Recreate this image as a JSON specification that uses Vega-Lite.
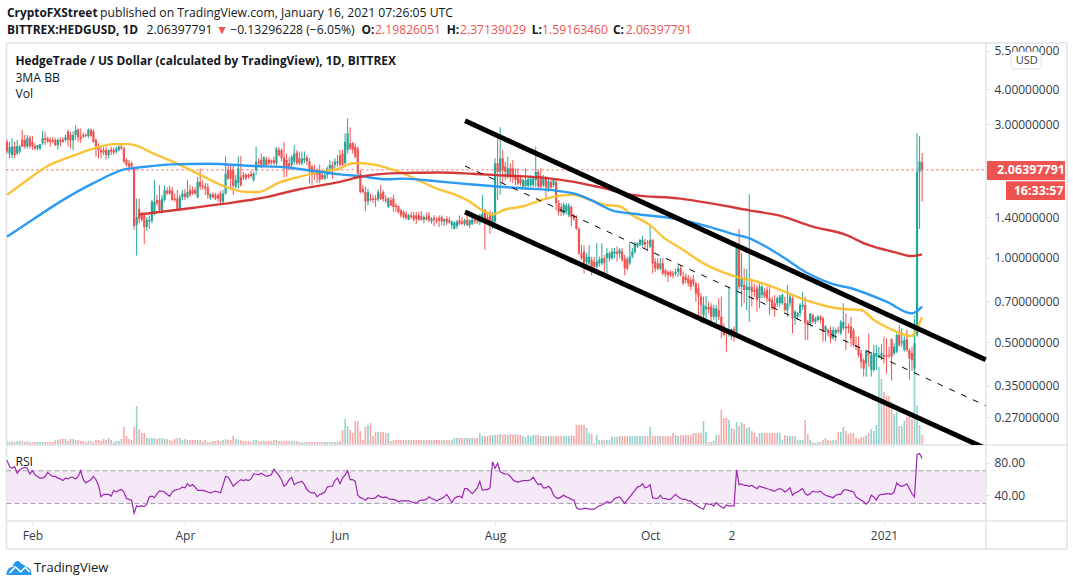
{"$schema":"https://vega.github.io/schema/vega-lite/v6.json","padding":0,"spacing":0,"bounds":"flush","background":"white","config":{"view":{"stroke":null},"font":"Open Sans","text":{"font":"Open Sans","color":"#131722","fontSize":12,"align":"left","baseline":"middle"}},
"datasets":{
"candles":[
{"day":0,"o":2.6,"h":2.65,"l":2.36,"c":2.4,"vol":4,"rsi":83},{"day":1,"o":2.36,"h":2.6,"l":2.27,"c":2.49,"vol":3,"rsi":75},{"day":2,"o":2.33,"h":2.68,"l":2.27,"c":2.5,"vol":4,"rsi":73},{"day":3,"o":2.5,"h":2.6,"l":2.27,"c":2.33,"vol":3,"rsi":75},{"day":4,"o":2.36,"h":2.64,"l":2.33,"c":2.51,"vol":4,"rsi":67},{"day":5,"o":2.4,"h":2.53,"l":2.36,"c":2.5,"vol":4,"rsi":71},{"day":6,"o":2.65,"h":2.87,"l":2.49,"c":2.5,"vol":4,"rsi":73},{"day":7,"o":2.64,"h":2.75,"l":2.46,"c":2.5,"vol":3,"rsi":74},{"day":8,"o":2.5,"h":2.75,"l":2.46,"c":2.68,"vol":4,"rsi":73},{"day":9,"o":2.69,"h":2.73,"l":2.46,"c":2.51,"vol":3,"rsi":66},
{"day":10,"o":2.6,"h":2.73,"l":2.43,"c":2.5,"vol":3,"rsi":70},{"day":11,"o":2.51,"h":2.57,"l":2.43,"c":2.46,"vol":3,"rsi":65},{"day":12,"o":2.46,"h":2.53,"l":2.43,"c":2.53,"vol":3,"rsi":63},{"day":13,"o":2.46,"h":2.55,"l":2.43,"c":2.55,"vol":3,"rsi":61},{"day":14,"o":2.57,"h":2.85,"l":2.53,"c":2.68,"vol":3,"rsi":61},{"day":15,"o":2.68,"h":2.83,"l":2.53,"c":2.64,"vol":3,"rsi":63},{"day":16,"o":2.68,"h":2.71,"l":2.58,"c":2.6,"vol":3,"rsi":68},{"day":17,"o":2.64,"h":2.7,"l":2.5,"c":2.6,"vol":3,"rsi":65},{"day":18,"o":2.64,"h":2.7,"l":2.57,"c":2.6,"vol":3,"rsi":63},{"day":19,"o":2.64,"h":2.68,"l":2.51,"c":2.53,"vol":5,"rsi":63},
{"day":20,"o":2.53,"h":2.68,"l":2.44,"c":2.64,"vol":5,"rsi":61},{"day":21,"o":2.64,"h":2.7,"l":2.5,"c":2.6,"vol":6,"rsi":60},{"day":22,"o":2.65,"h":2.7,"l":2.58,"c":2.6,"vol":6,"rsi":58},{"day":23,"o":2.64,"h":2.75,"l":2.6,"c":2.7,"vol":6,"rsi":61},{"day":24,"o":2.83,"h":2.87,"l":2.5,"c":2.64,"vol":4,"rsi":60},{"day":25,"o":2.75,"h":2.83,"l":2.46,"c":2.63,"vol":6,"rsi":62},{"day":26,"o":2.63,"h":2.83,"l":2.43,"c":2.75,"vol":6,"rsi":62},{"day":27,"o":2.75,"h":2.98,"l":2.64,"c":2.87,"vol":5,"rsi":60},{"day":28,"o":2.87,"h":2.9,"l":2.6,"c":2.7,"vol":5,"rsi":63},{"day":29,"o":2.7,"h":2.9,"l":2.58,"c":2.65,"vol":4,"rsi":70},
{"day":30,"o":2.75,"h":2.81,"l":2.68,"c":2.71,"vol":4,"rsi":59},{"day":31,"o":2.75,"h":2.79,"l":2.7,"c":2.73,"vol":3,"rsi":55},{"day":32,"o":2.73,"h":2.9,"l":2.68,"c":2.87,"vol":4,"rsi":57},{"day":33,"o":2.87,"h":2.9,"l":2.7,"c":2.73,"vol":4,"rsi":59},{"day":34,"o":2.83,"h":2.89,"l":2.58,"c":2.6,"vol":3,"rsi":63},{"day":35,"o":2.64,"h":2.68,"l":2.3,"c":2.5,"vol":5,"rsi":59},{"day":36,"o":2.5,"h":2.57,"l":2.27,"c":2.43,"vol":5,"rsi":52},{"day":37,"o":2.43,"h":2.5,"l":2.27,"c":2.38,"vol":4,"rsi":38},{"day":38,"o":2.43,"h":2.49,"l":2.33,"c":2.38,"vol":6,"rsi":41},{"day":39,"o":2.43,"h":2.5,"l":2.25,"c":2.33,"vol":5,"rsi":41},
{"day":40,"o":2.33,"h":2.44,"l":2.27,"c":2.43,"vol":7,"rsi":41},{"day":41,"o":2.44,"h":2.5,"l":2.33,"c":2.4,"vol":5,"rsi":39},{"day":42,"o":2.43,"h":2.49,"l":2.33,"c":2.38,"vol":3,"rsi":46},{"day":43,"o":2.4,"h":2.5,"l":2.36,"c":2.46,"vol":4,"rsi":44},{"day":44,"o":2.43,"h":2.57,"l":2.4,"c":2.5,"vol":4,"rsi":46},{"day":45,"o":2.5,"h":2.55,"l":2.43,"c":2.46,"vol":6,"rsi":47},{"day":46,"o":2.46,"h":2.5,"l":2.18,"c":2.21,"vol":18,"rsi":44},{"day":47,"o":2.24,"h":2.27,"l":2.12,"c":2.15,"vol":9,"rsi":36},{"day":48,"o":2.18,"h":2.24,"l":2.03,"c":2.12,"vol":6,"rsi":35},{"day":49,"o":2.18,"h":2.21,"l":2.09,"c":2.12,"vol":5,"rsi":34},
{"day":50,"o":2.09,"h":2.12,"l":1.26,"c":1.3,"vol":18,"rsi":18},{"day":51,"o":1.31,"h":1.63,"l":1.02,"c":1.4,"vol":39,"rsi":27},{"day":52,"o":1.5,"h":1.63,"l":1.33,"c":1.38,"vol":16,"rsi":26},{"day":53,"o":1.42,"h":1.46,"l":1.35,"c":1.37,"vol":12,"rsi":27},{"day":54,"o":1.42,"h":1.44,"l":1.12,"c":1.29,"vol":12,"rsi":26},{"day":55,"o":1.29,"h":1.4,"l":1.25,"c":1.37,"vol":7,"rsi":29},{"day":56,"o":1.35,"h":1.42,"l":1.27,"c":1.37,"vol":7,"rsi":38},{"day":57,"o":1.36,"h":1.61,"l":1.33,"c":1.59,"vol":7,"rsi":39},{"day":58,"o":1.44,"h":1.9,"l":1.42,"c":1.59,"vol":7,"rsi":37},{"day":59,"o":1.61,"h":1.68,"l":1.54,"c":1.57,"vol":6,"rsi":42},
{"day":60,"o":1.61,"h":1.82,"l":1.46,"c":1.48,"vol":7,"rsi":45},{"day":61,"o":1.48,"h":1.68,"l":1.44,"c":1.63,"vol":7,"rsi":45},{"day":62,"o":1.61,"h":1.82,"l":1.59,"c":1.75,"vol":6,"rsi":44},{"day":63,"o":1.74,"h":1.79,"l":1.68,"c":1.7,"vol":6,"rsi":41},{"day":64,"o":1.75,"h":1.81,"l":1.68,"c":1.7,"vol":5,"rsi":39},{"day":65,"o":1.74,"h":1.79,"l":1.6,"c":1.61,"vol":4,"rsi":44},{"day":66,"o":1.63,"h":1.7,"l":1.59,"c":1.61,"vol":6,"rsi":46},{"day":67,"o":1.63,"h":1.75,"l":1.49,"c":1.5,"vol":7,"rsi":47},{"day":68,"o":1.5,"h":1.68,"l":1.48,"c":1.65,"vol":7,"rsi":48},{"day":69,"o":1.65,"h":1.75,"l":1.61,"c":1.7,"vol":5,"rsi":50},
{"day":70,"o":1.7,"h":1.76,"l":1.61,"c":1.65,"vol":6,"rsi":49},{"day":71,"o":1.65,"h":1.9,"l":1.63,"c":1.72,"vol":5,"rsi":54},{"day":72,"o":1.75,"h":1.82,"l":1.65,"c":1.68,"vol":5,"rsi":51},{"day":73,"o":1.75,"h":1.8,"l":1.68,"c":1.7,"vol":5,"rsi":53},{"day":74,"o":1.75,"h":1.79,"l":1.68,"c":1.7,"vol":5,"rsi":50},{"day":75,"o":1.65,"h":1.95,"l":1.63,"c":1.87,"vol":5,"rsi":46},{"day":76,"o":1.87,"h":2.09,"l":1.75,"c":1.8,"vol":5,"rsi":46},{"day":77,"o":1.81,"h":1.9,"l":1.75,"c":1.79,"vol":3,"rsi":46},{"day":78,"o":1.8,"h":1.85,"l":1.68,"c":1.77,"vol":5,"rsi":45},{"day":79,"o":1.79,"h":1.85,"l":1.63,"c":1.68,"vol":3,"rsi":44},
{"day":80,"o":1.64,"h":1.71,"l":1.61,"c":1.69,"vol":3,"rsi":43},{"day":81,"o":1.69,"h":1.72,"l":1.63,"c":1.65,"vol":4,"rsi":44},{"day":82,"o":1.68,"h":1.71,"l":1.61,"c":1.63,"vol":4,"rsi":45},{"day":83,"o":1.68,"h":1.71,"l":1.59,"c":1.63,"vol":5,"rsi":44},{"day":84,"o":1.7,"h":1.74,"l":1.57,"c":1.59,"vol":4,"rsi":43},{"day":85,"o":1.59,"h":1.75,"l":1.57,"c":1.7,"vol":5,"rsi":53},{"day":86,"o":1.7,"h":2.31,"l":1.68,"c":2.0,"vol":6,"rsi":63},{"day":87,"o":2.06,"h":2.15,"l":1.9,"c":1.92,"vol":5,"rsi":62},{"day":88,"o":2.06,"h":2.15,"l":1.77,"c":1.92,"vol":5,"rsi":57},{"day":89,"o":2.06,"h":2.15,"l":1.68,"c":1.81,"vol":9,"rsi":51},
{"day":90,"o":1.8,"h":1.98,"l":1.77,"c":1.9,"vol":6,"rsi":54},{"day":91,"o":1.85,"h":2.31,"l":1.77,"c":2.09,"vol":5,"rsi":57},{"day":92,"o":1.95,"h":2.31,"l":1.8,"c":1.82,"vol":5,"rsi":59},{"day":93,"o":1.98,"h":2.03,"l":1.9,"c":1.94,"vol":4,"rsi":58},{"day":94,"o":1.98,"h":2.01,"l":1.9,"c":1.92,"vol":4,"rsi":59},{"day":95,"o":1.98,"h":2.0,"l":1.92,"c":1.95,"vol":4,"rsi":58},{"day":96,"o":2.0,"h":2.05,"l":1.94,"c":1.96,"vol":3,"rsi":60},{"day":97,"o":1.9,"h":2.03,"l":1.87,"c":2.0,"vol":5,"rsi":66},{"day":98,"o":2.06,"h":2.5,"l":1.98,"c":2.21,"vol":5,"rsi":66},{"day":99,"o":2.21,"h":2.27,"l":2.13,"c":2.18,"vol":4,"rsi":65},
{"day":100,"o":2.24,"h":2.36,"l":2.09,"c":2.15,"vol":4,"rsi":67},{"day":101,"o":2.15,"h":2.31,"l":2.12,"c":2.29,"vol":4,"rsi":65},{"day":102,"o":2.25,"h":2.3,"l":2.13,"c":2.15,"vol":4,"rsi":63},{"day":103,"o":2.24,"h":2.29,"l":2.15,"c":2.18,"vol":4,"rsi":64},{"day":104,"o":2.23,"h":2.25,"l":2.15,"c":2.19,"vol":4,"rsi":65},{"day":105,"o":2.24,"h":2.3,"l":2.15,"c":2.18,"vol":5,"rsi":72},{"day":106,"o":2.18,"h":2.49,"l":2.13,"c":2.46,"vol":5,"rsi":68},{"day":107,"o":2.43,"h":2.49,"l":2.3,"c":2.33,"vol":4,"rsi":64},{"day":108,"o":2.43,"h":2.46,"l":2.21,"c":2.27,"vol":4,"rsi":59},{"day":109,"o":2.29,"h":2.6,"l":1.94,"c":2.12,"vol":4,"rsi":51},
{"day":110,"o":2.24,"h":2.36,"l":1.95,"c":2.12,"vol":4,"rsi":54},{"day":111,"o":2.18,"h":2.29,"l":2.06,"c":2.12,"vol":4,"rsi":59},{"day":112,"o":2.15,"h":2.33,"l":2.09,"c":2.3,"vol":4,"rsi":62},{"day":113,"o":2.21,"h":2.53,"l":2.15,"c":2.36,"vol":4,"rsi":53},{"day":114,"o":2.38,"h":2.43,"l":2.15,"c":2.18,"vol":4,"rsi":55},{"day":115,"o":2.27,"h":2.4,"l":2.15,"c":2.18,"vol":3,"rsi":56},{"day":116,"o":2.18,"h":2.4,"l":2.15,"c":2.27,"vol":3,"rsi":57},{"day":117,"o":2.23,"h":2.4,"l":2.18,"c":2.27,"vol":3,"rsi":53},{"day":118,"o":2.29,"h":2.33,"l":2.15,"c":2.21,"vol":3,"rsi":47},{"day":119,"o":2.21,"h":2.27,"l":1.85,"c":2.03,"vol":3,"rsi":44},
{"day":120,"o":2.12,"h":2.15,"l":1.82,"c":2.01,"vol":3,"rsi":43},{"day":121,"o":2.03,"h":2.15,"l":1.9,"c":2.0,"vol":3,"rsi":43},{"day":122,"o":2.03,"h":2.09,"l":1.85,"c":1.98,"vol":3,"rsi":38},{"day":123,"o":2.03,"h":2.15,"l":1.85,"c":1.9,"vol":3,"rsi":41},{"day":124,"o":1.98,"h":2.06,"l":1.9,"c":1.92,"vol":3,"rsi":42},{"day":125,"o":1.92,"h":2.03,"l":1.9,"c":1.98,"vol":3,"rsi":44},{"day":126,"o":1.98,"h":2.12,"l":1.92,"c":2.09,"vol":3,"rsi":50},{"day":127,"o":2.09,"h":2.24,"l":2.03,"c":2.15,"vol":3,"rsi":51},{"day":128,"o":2.15,"h":2.21,"l":1.92,"c":2.06,"vol":3,"rsi":51},{"day":129,"o":2.15,"h":2.27,"l":2.09,"c":2.21,"vol":3,"rsi":58},
{"day":130,"o":2.18,"h":2.33,"l":2.12,"c":2.21,"vol":3,"rsi":61},{"day":131,"o":2.33,"h":2.43,"l":2.12,"c":2.15,"vol":4,"rsi":54},{"day":132,"o":2.36,"h":2.44,"l":2.12,"c":2.15,"vol":15,"rsi":61},{"day":133,"o":2.18,"h":2.79,"l":2.12,"c":2.6,"vol":26,"rsi":65},{"day":134,"o":2.43,"h":3.15,"l":2.36,"c":2.79,"vol":19,"rsi":70},{"day":135,"o":2.57,"h":2.93,"l":2.43,"c":2.46,"vol":15,"rsi":59},{"day":136,"o":2.57,"h":2.6,"l":2.36,"c":2.43,"vol":12,"rsi":59},{"day":137,"o":2.5,"h":2.57,"l":2.27,"c":2.3,"vol":24,"rsi":57},{"day":138,"o":2.46,"h":2.5,"l":1.98,"c":2.0,"vol":24,"rsi":40},{"day":139,"o":2.0,"h":2.06,"l":1.7,"c":1.72,"vol":14,"rsi":37},
{"day":140,"o":1.77,"h":1.82,"l":1.7,"c":1.72,"vol":5,"rsi":36},{"day":141,"o":1.72,"h":1.8,"l":1.47,"c":1.59,"vol":18,"rsi":34},{"day":142,"o":1.59,"h":1.77,"l":1.54,"c":1.72,"vol":20,"rsi":37},{"day":143,"o":1.63,"h":1.7,"l":1.59,"c":1.61,"vol":22,"rsi":36},{"day":144,"o":1.63,"h":1.68,"l":1.57,"c":1.61,"vol":9,"rsi":36},{"day":145,"o":1.63,"h":1.68,"l":1.52,"c":1.61,"vol":13,"rsi":37},{"day":146,"o":1.62,"h":1.76,"l":1.59,"c":1.72,"vol":13,"rsi":40},{"day":147,"o":1.7,"h":1.82,"l":1.61,"c":1.63,"vol":13,"rsi":38},{"day":148,"o":1.72,"h":1.75,"l":1.59,"c":1.62,"vol":13,"rsi":37},{"day":149,"o":1.62,"h":1.68,"l":1.57,"c":1.6,"vol":12,"rsi":38},
{"day":150,"o":1.52,"h":1.65,"l":1.51,"c":1.63,"vol":12,"rsi":36},{"day":151,"o":1.61,"h":1.65,"l":1.53,"c":1.54,"vol":4,"rsi":35},{"day":152,"o":1.63,"h":1.68,"l":1.46,"c":1.52,"vol":5,"rsi":35},{"day":153,"o":1.54,"h":1.57,"l":1.46,"c":1.52,"vol":5,"rsi":34},{"day":154,"o":1.53,"h":1.54,"l":1.44,"c":1.46,"vol":5,"rsi":32},{"day":155,"o":1.48,"h":1.5,"l":1.39,"c":1.42,"vol":5,"rsi":33},{"day":156,"o":1.46,"h":1.48,"l":1.38,"c":1.4,"vol":5,"rsi":33},{"day":157,"o":1.44,"h":1.47,"l":1.37,"c":1.39,"vol":5,"rsi":33},{"day":158,"o":1.37,"h":1.44,"l":1.365,"c":1.42,"vol":5,"rsi":33},{"day":159,"o":1.42,"h":1.46,"l":1.38,"c":1.4,"vol":5,"rsi":32},
{"day":160,"o":1.42,"h":1.46,"l":1.35,"c":1.37,"vol":5,"rsi":31},{"day":161,"o":1.42,"h":1.46,"l":1.325,"c":1.38,"vol":5,"rsi":30},{"day":162,"o":1.42,"h":1.46,"l":1.36,"c":1.37,"vol":5,"rsi":33},{"day":163,"o":1.41,"h":1.47,"l":1.36,"c":1.37,"vol":5,"rsi":34},{"day":164,"o":1.37,"h":1.42,"l":1.33,"c":1.4,"vol":5,"rsi":34},{"day":165,"o":1.4,"h":1.45,"l":1.36,"c":1.37,"vol":5,"rsi":35},{"day":166,"o":1.42,"h":1.46,"l":1.34,"c":1.365,"vol":5,"rsi":38},{"day":167,"o":1.35,"h":1.4,"l":1.325,"c":1.38,"vol":5,"rsi":36},{"day":168,"o":1.39,"h":1.42,"l":1.3,"c":1.37,"vol":5,"rsi":35},{"day":169,"o":1.37,"h":1.4,"l":1.33,"c":1.35,"vol":5,"rsi":33},
{"day":170,"o":1.39,"h":1.42,"l":1.29,"c":1.36,"vol":5,"rsi":35},{"day":171,"o":1.4,"h":1.42,"l":1.31,"c":1.35,"vol":5,"rsi":36},{"day":172,"o":1.35,"h":1.38,"l":1.3,"c":1.38,"vol":5,"rsi":38},{"day":173,"o":1.38,"h":1.41,"l":1.31,"c":1.34,"vol":5,"rsi":41},{"day":174,"o":1.365,"h":1.4,"l":1.325,"c":1.34,"vol":5,"rsi":36},{"day":175,"o":1.31,"h":1.36,"l":1.27,"c":1.35,"vol":5,"rsi":31},{"day":176,"o":1.27,"h":1.35,"l":1.265,"c":1.34,"vol":7,"rsi":36},{"day":177,"o":1.3,"h":1.365,"l":1.27,"c":1.35,"vol":7,"rsi":38},{"day":178,"o":1.365,"h":1.42,"l":1.31,"c":1.325,"vol":7,"rsi":39},{"day":179,"o":1.35,"h":1.4,"l":1.31,"c":1.325,"vol":7,"rsi":37},
{"day":180,"o":1.325,"h":1.38,"l":1.3,"c":1.365,"vol":7,"rsi":48},{"day":181,"o":1.365,"h":1.44,"l":1.3,"c":1.31,"vol":7,"rsi":48},{"day":182,"o":1.31,"h":1.37,"l":1.28,"c":1.365,"vol":7,"rsi":45},{"day":183,"o":1.325,"h":1.4,"l":1.31,"c":1.37,"vol":7,"rsi":42},{"day":184,"o":1.37,"h":1.42,"l":1.325,"c":1.35,"vol":7,"rsi":45},{"day":185,"o":1.35,"h":1.42,"l":1.325,"c":1.34,"vol":7,"rsi":49},{"day":186,"o":1.34,"h":1.44,"l":1.31,"c":1.42,"vol":12,"rsi":57},{"day":187,"o":1.365,"h":1.68,"l":1.35,"c":1.44,"vol":9,"rsi":46},{"day":188,"o":1.48,"h":1.5,"l":1.07,"c":1.35,"vol":9,"rsi":47},{"day":189,"o":1.4,"h":1.46,"l":1.325,"c":1.33,"vol":9,"rsi":47},
{"day":190,"o":1.42,"h":1.48,"l":1.22,"c":1.31,"vol":10,"rsi":49},{"day":191,"o":1.31,"h":1.46,"l":1.27,"c":1.42,"vol":10,"rsi":81},{"day":192,"o":1.35,"h":2.27,"l":1.27,"c":2.18,"vol":10,"rsi":73},{"day":193,"o":2.18,"h":2.71,"l":1.61,"c":2.03,"vol":10,"rsi":79},{"day":194,"o":2.03,"h":2.93,"l":1.68,"c":2.27,"vol":11,"rsi":69},{"day":195,"o":2.27,"h":2.43,"l":1.85,"c":2.06,"vol":10,"rsi":67},{"day":196,"o":2.12,"h":2.21,"l":1.9,"c":2.03,"vol":11,"rsi":66},{"day":197,"o":1.98,"h":2.3,"l":1.92,"c":2.09,"vol":10,"rsi":66},{"day":198,"o":2.09,"h":2.18,"l":1.87,"c":1.98,"vol":11,"rsi":63},{"day":199,"o":2.09,"h":2.24,"l":1.85,"c":1.98,"vol":10,"rsi":59},
{"day":200,"o":1.98,"h":2.09,"l":1.82,"c":1.9,"vol":11,"rsi":57},{"day":201,"o":1.98,"h":2.09,"l":1.82,"c":1.85,"vol":10,"rsi":56},{"day":202,"o":1.92,"h":1.98,"l":1.81,"c":1.85,"vol":10,"rsi":57},{"day":203,"o":1.8,"h":1.92,"l":1.79,"c":1.9,"vol":9,"rsi":58},{"day":204,"o":1.81,"h":2.09,"l":1.79,"c":1.9,"vol":8,"rsi":58},{"day":205,"o":1.81,"h":1.95,"l":1.79,"c":1.91,"vol":10,"rsi":58},{"day":206,"o":1.82,"h":1.98,"l":1.79,"c":1.92,"vol":9,"rsi":59},{"day":207,"o":1.82,"h":1.95,"l":1.79,"c":1.92,"vol":10,"rsi":62},{"day":208,"o":1.9,"h":2.5,"l":1.79,"c":2.03,"vol":10,"rsi":57},{"day":209,"o":2.03,"h":2.06,"l":1.77,"c":1.8,"vol":10,"rsi":53},
{"day":210,"o":1.95,"h":2.09,"l":1.75,"c":1.8,"vol":9,"rsi":54},{"day":211,"o":1.82,"h":1.98,"l":1.79,"c":1.92,"vol":9,"rsi":49},{"day":212,"o":1.92,"h":1.96,"l":1.63,"c":1.79,"vol":9,"rsi":49},{"day":213,"o":1.77,"h":1.92,"l":1.72,"c":1.88,"vol":9,"rsi":51},{"day":214,"o":1.87,"h":1.91,"l":1.75,"c":1.79,"vol":9,"rsi":48},{"day":215,"o":1.82,"h":1.92,"l":1.79,"c":1.9,"vol":9,"rsi":40},{"day":216,"o":1.87,"h":1.91,"l":1.48,"c":1.57,"vol":9,"rsi":37},{"day":217,"o":1.57,"h":1.61,"l":1.42,"c":1.46,"vol":9,"rsi":36},{"day":218,"o":1.52,"h":1.57,"l":1.41,"c":1.46,"vol":9,"rsi":38},{"day":219,"o":1.44,"h":1.58,"l":1.42,"c":1.55,"vol":9,"rsi":40},
{"day":220,"o":1.46,"h":1.57,"l":1.43,"c":1.54,"vol":9,"rsi":38},{"day":221,"o":1.42,"h":1.57,"l":1.4,"c":1.54,"vol":9,"rsi":37},{"day":222,"o":1.52,"h":1.54,"l":1.3,"c":1.4,"vol":10,"rsi":35},{"day":223,"o":1.42,"h":1.44,"l":1.36,"c":1.38,"vol":9,"rsi":34},{"day":224,"o":1.38,"h":1.42,"l":1.26,"c":1.27,"vol":20,"rsi":25},{"day":225,"o":1.27,"h":1.29,"l":1.025,"c":1.04,"vol":20,"rsi":23},{"day":226,"o":1.04,"h":1.115,"l":0.985,"c":0.998,"vol":20,"rsi":23},{"day":227,"o":1.055,"h":1.11,"l":0.88,"c":0.957,"vol":20,"rsi":24},{"day":228,"o":0.97,"h":1.04,"l":0.943,"c":1.01,"vol":17,"rsi":24},{"day":229,"o":0.957,"h":1.11,"l":0.943,"c":1.01,"vol":12,"rsi":23},
{"day":230,"o":0.985,"h":1.01,"l":0.867,"c":0.93,"vol":11,"rsi":23},{"day":231,"o":0.97,"h":1.01,"l":0.917,"c":0.93,"vol":2,"rsi":23},{"day":232,"o":0.93,"h":1.13,"l":0.917,"c":0.97,"vol":10,"rsi":25},{"day":233,"o":0.957,"h":1.01,"l":0.93,"c":0.985,"vol":5,"rsi":27},{"day":234,"o":0.957,"h":1.13,"l":0.943,"c":0.998,"vol":5,"rsi":28},{"day":235,"o":0.998,"h":1.025,"l":0.867,"c":0.957,"vol":5,"rsi":30},{"day":236,"o":0.998,"h":1.085,"l":0.867,"c":1.04,"vol":5,"rsi":32},{"day":237,"o":0.998,"h":1.055,"l":0.97,"c":1.04,"vol":5,"rsi":31},{"day":238,"o":0.998,"h":1.085,"l":0.985,"c":1.055,"vol":8,"rsi":32},{"day":239,"o":1.035,"h":1.085,"l":0.998,"c":1.055,"vol":8,"rsi":36},
{"day":240,"o":1.055,"h":1.1,"l":0.97,"c":1.035,"vol":8,"rsi":37},{"day":241,"o":1.035,"h":1.085,"l":0.998,"c":1.07,"vol":9,"rsi":38},{"day":242,"o":1.055,"h":1.085,"l":0.97,"c":0.985,"vol":9,"rsi":34},{"day":243,"o":0.998,"h":1.025,"l":0.867,"c":0.917,"vol":9,"rsi":30},{"day":244,"o":0.99,"h":1.01,"l":0.904,"c":0.917,"vol":9,"rsi":34},{"day":245,"o":0.957,"h":1.14,"l":0.943,"c":1.01,"vol":9,"rsi":38},{"day":246,"o":1.01,"h":1.085,"l":0.998,"c":1.055,"vol":9,"rsi":42},{"day":247,"o":1.05,"h":1.14,"l":1.035,"c":1.115,"vol":9,"rsi":46},{"day":248,"o":1.1,"h":1.14,"l":1.085,"c":1.13,"vol":9,"rsi":50},{"day":249,"o":1.115,"h":1.17,"l":1.1,"c":1.16,"vol":9,"rsi":51},
{"day":250,"o":1.115,"h":1.2,"l":1.1,"c":1.16,"vol":9,"rsi":54},{"day":251,"o":1.14,"h":1.17,"l":1.085,"c":1.115,"vol":9,"rsi":49},{"day":252,"o":1.14,"h":1.16,"l":1.055,"c":1.13,"vol":9,"rsi":50},{"day":253,"o":1.1,"h":1.3,"l":1.085,"c":1.16,"vol":18,"rsi":53},{"day":254,"o":1.16,"h":1.17,"l":0.88,"c":0.957,"vol":9,"rsi":37},{"day":255,"o":0.97,"h":0.998,"l":0.892,"c":0.917,"vol":9,"rsi":36},{"day":256,"o":0.957,"h":0.998,"l":0.904,"c":0.917,"vol":9,"rsi":36},{"day":257,"o":0.917,"h":0.998,"l":0.904,"c":0.957,"vol":9,"rsi":40},{"day":258,"o":0.957,"h":1.0,"l":0.867,"c":0.88,"vol":9,"rsi":36},{"day":259,"o":0.904,"h":0.917,"l":0.855,"c":0.875,"vol":9,"rsi":36},
{"day":260,"o":0.892,"h":0.904,"l":0.82,"c":0.867,"vol":9,"rsi":35},{"day":261,"o":0.892,"h":0.904,"l":0.855,"c":0.867,"vol":9,"rsi":35},{"day":262,"o":0.88,"h":0.9,"l":0.845,"c":0.867,"vol":12,"rsi":38},{"day":263,"o":0.88,"h":0.917,"l":0.86,"c":0.892,"vol":10,"rsi":41},{"day":264,"o":0.892,"h":0.943,"l":0.855,"c":0.917,"vol":9,"rsi":38},{"day":265,"o":0.918,"h":0.94,"l":0.858,"c":0.87,"vol":10,"rsi":36},{"day":266,"o":0.858,"h":0.894,"l":0.801,"c":0.812,"vol":10,"rsi":35},{"day":267,"o":0.858,"h":0.882,"l":0.812,"c":0.834,"vol":10,"rsi":35},{"day":268,"o":0.846,"h":0.87,"l":0.79,"c":0.812,"vol":10,"rsi":33},{"day":269,"o":0.834,"h":0.858,"l":0.768,"c":0.79,"vol":10,"rsi":33},
{"day":270,"o":0.84,"h":0.87,"l":0.79,"c":0.812,"vol":12,"rsi":30},{"day":271,"o":0.812,"h":0.822,"l":0.698,"c":0.748,"vol":12,"rsi":28},{"day":272,"o":0.779,"h":0.812,"l":0.617,"c":0.728,"vol":12,"rsi":26},{"day":273,"o":0.728,"h":0.748,"l":0.584,"c":0.68,"vol":12,"rsi":24},{"day":274,"o":0.625,"h":0.728,"l":0.584,"c":0.68,"vol":24,"rsi":23},{"day":275,"o":0.655,"h":0.732,"l":0.601,"c":0.67,"vol":13,"rsi":30},{"day":276,"o":0.67,"h":0.698,"l":0.634,"c":0.655,"vol":3,"rsi":29},{"day":277,"o":0.67,"h":0.689,"l":0.584,"c":0.617,"vol":3,"rsi":29},{"day":278,"o":0.617,"h":0.68,"l":0.601,"c":0.661,"vol":4,"rsi":27},{"day":279,"o":0.617,"h":0.68,"l":0.584,"c":0.661,"vol":10,"rsi":31},
{"day":280,"o":0.652,"h":0.718,"l":0.601,"c":0.617,"vol":10,"rsi":28},{"day":281,"o":0.617,"h":0.728,"l":0.517,"c":0.561,"vol":35,"rsi":26},{"day":282,"o":0.569,"h":0.584,"l":0.524,"c":0.531,"vol":27,"rsi":24},{"day":283,"o":0.553,"h":0.561,"l":0.461,"c":0.538,"vol":27,"rsi":28},{"day":284,"o":0.538,"h":0.79,"l":0.524,"c":0.553,"vol":25,"rsi":27},{"day":285,"o":0.524,"h":0.561,"l":0.51,"c":0.558,"vol":17,"rsi":27},{"day":286,"o":0.558,"h":0.569,"l":0.503,"c":0.524,"vol":16,"rsi":27},{"day":287,"o":0.531,"h":1.1,"l":0.524,"c":1.1,"vol":23,"rsi":71},{"day":288,"o":1.08,"h":1.27,"l":0.768,"c":0.79,"vol":19,"rsi":53},{"day":289,"o":0.79,"h":1.04,"l":0.67,"c":0.846,"vol":23,"rsi":54},
{"day":290,"o":0.801,"h":0.918,"l":0.689,"c":0.768,"vol":21,"rsi":52},{"day":291,"o":0.768,"h":0.912,"l":0.652,"c":0.79,"vol":17,"rsi":52},{"day":292,"o":0.768,"h":1.69,"l":0.592,"c":0.79,"vol":18,"rsi":51},{"day":293,"o":0.79,"h":0.834,"l":0.67,"c":0.758,"vol":14,"rsi":52},{"day":294,"o":0.768,"h":0.812,"l":0.728,"c":0.758,"vol":12,"rsi":50},{"day":295,"o":0.779,"h":0.801,"l":0.643,"c":0.708,"vol":8,"rsi":48},{"day":296,"o":0.718,"h":0.812,"l":0.661,"c":0.79,"vol":12,"rsi":51},{"day":297,"o":0.738,"h":0.801,"l":0.718,"c":0.79,"vol":12,"rsi":50},{"day":298,"o":0.758,"h":0.779,"l":0.718,"c":0.728,"vol":12,"rsi":49},{"day":299,"o":0.768,"h":0.79,"l":0.698,"c":0.718,"vol":12,"rsi":48},
{"day":300,"o":0.718,"h":0.79,"l":0.625,"c":0.698,"vol":12,"rsi":47},{"day":301,"o":0.708,"h":0.728,"l":0.652,"c":0.661,"vol":12,"rsi":46},{"day":302,"o":0.689,"h":0.738,"l":0.617,"c":0.661,"vol":12,"rsi":45},{"day":303,"o":0.689,"h":0.728,"l":0.67,"c":0.718,"vol":12,"rsi":47},{"day":304,"o":0.689,"h":0.738,"l":0.67,"c":0.728,"vol":12,"rsi":48},{"day":305,"o":0.689,"h":0.748,"l":0.68,"c":0.738,"vol":5,"rsi":47},{"day":306,"o":0.689,"h":0.728,"l":0.643,"c":0.652,"vol":10,"rsi":44},{"day":307,"o":0.65,"h":0.801,"l":0.617,"c":0.689,"vol":9,"rsi":46},{"day":308,"o":0.689,"h":0.738,"l":0.67,"c":0.728,"vol":9,"rsi":49},{"day":309,"o":0.718,"h":0.728,"l":0.538,"c":0.609,"vol":9,"rsi":40},
{"day":310,"o":0.609,"h":0.652,"l":0.576,"c":0.643,"vol":9,"rsi":43},{"day":311,"o":0.617,"h":0.643,"l":0.601,"c":0.634,"vol":5,"rsi":44},{"day":312,"o":0.634,"h":0.689,"l":0.617,"c":0.68,"vol":5,"rsi":46},{"day":313,"o":0.67,"h":0.758,"l":0.652,"c":0.68,"vol":5,"rsi":48},{"day":314,"o":0.68,"h":0.728,"l":0.51,"c":0.584,"vol":25,"rsi":42},{"day":315,"o":0.592,"h":0.601,"l":0.51,"c":0.576,"vol":11,"rsi":40},{"day":316,"o":0.584,"h":0.634,"l":0.569,"c":0.634,"vol":5,"rsi":42},{"day":317,"o":0.625,"h":0.634,"l":0.584,"c":0.592,"vol":3,"rsi":45},{"day":318,"o":0.592,"h":0.617,"l":0.58,"c":0.609,"vol":2,"rsi":44},{"day":319,"o":0.601,"h":0.625,"l":0.592,"c":0.617,"vol":3,"rsi":44},
{"day":320,"o":0.617,"h":0.625,"l":0.584,"c":0.601,"vol":3,"rsi":45},{"day":321,"o":0.609,"h":0.617,"l":0.503,"c":0.546,"vol":5,"rsi":42},{"day":322,"o":0.546,"h":0.576,"l":0.503,"c":0.569,"vol":7,"rsi":40},{"day":323,"o":0.553,"h":0.561,"l":0.524,"c":0.538,"vol":5,"rsi":39},{"day":324,"o":0.553,"h":0.569,"l":0.496,"c":0.517,"vol":4,"rsi":38},{"day":325,"o":0.517,"h":0.569,"l":0.51,"c":0.553,"vol":5,"rsi":37},{"day":326,"o":0.538,"h":0.561,"l":0.503,"c":0.553,"vol":5,"rsi":40},{"day":327,"o":0.553,"h":0.569,"l":0.538,"c":0.546,"vol":13,"rsi":41},{"day":328,"o":0.538,"h":0.601,"l":0.531,"c":0.59,"vol":13,"rsi":41},{"day":329,"o":0.561,"h":0.689,"l":0.553,"c":0.592,"vol":18,"rsi":46},
{"day":330,"o":0.569,"h":0.634,"l":0.469,"c":0.561,"vol":14,"rsi":47},{"day":331,"o":0.569,"h":0.584,"l":0.538,"c":0.561,"vol":11,"rsi":46},{"day":332,"o":0.569,"h":0.617,"l":0.482,"c":0.517,"vol":12,"rsi":45},{"day":333,"o":0.553,"h":0.561,"l":0.482,"c":0.489,"vol":12,"rsi":44},{"day":334,"o":0.489,"h":0.524,"l":0.469,"c":0.482,"vol":7,"rsi":38},{"day":335,"o":0.482,"h":0.524,"l":0.441,"c":0.45,"vol":6,"rsi":36},{"day":336,"o":0.457,"h":0.469,"l":0.403,"c":0.426,"vol":8,"rsi":34},{"day":337,"o":0.432,"h":0.438,"l":0.377,"c":0.403,"vol":8,"rsi":32},{"day":338,"o":0.42,"h":0.469,"l":0.377,"c":0.469,"vol":10,"rsi":29},{"day":339,"o":0.463,"h":0.538,"l":0.409,"c":0.45,"vol":12,"rsi":32},
{"day":340,"o":0.398,"h":0.457,"l":0.377,"c":0.45,"vol":16,"rsi":40},{"day":341,"o":0.398,"h":0.489,"l":0.392,"c":0.457,"vol":14,"rsi":38},{"day":342,"o":0.444,"h":0.489,"l":0.398,"c":0.457,"vol":20,"rsi":34},{"day":343,"o":0.444,"h":0.482,"l":0.438,"c":0.45,"vol":78,"rsi":40},{"day":344,"o":0.444,"h":0.492,"l":0.432,"c":0.457,"vol":66,"rsi":41},{"day":345,"o":0.45,"h":0.524,"l":0.42,"c":0.444,"vol":53,"rsi":41},{"day":346,"o":0.45,"h":0.517,"l":0.387,"c":0.444,"vol":49,"rsi":42},{"day":347,"o":0.45,"h":0.482,"l":0.438,"c":0.447,"vol":49,"rsi":42},{"day":348,"o":0.513,"h":0.517,"l":0.365,"c":0.444,"vol":43,"rsi":41},{"day":349,"o":0.457,"h":0.496,"l":0.45,"c":0.482,"vol":31,"rsi":44},
{"day":350,"o":0.463,"h":0.538,"l":0.457,"c":0.531,"vol":33,"rsi":55},{"day":351,"o":0.531,"h":0.576,"l":0.482,"c":0.489,"vol":19,"rsi":52},{"day":352,"o":0.496,"h":0.561,"l":0.482,"c":0.503,"vol":19,"rsi":51},{"day":353,"o":0.469,"h":0.524,"l":0.463,"c":0.51,"vol":24,"rsi":52},{"day":354,"o":0.513,"h":0.553,"l":0.463,"c":0.469,"vol":28,"rsi":54},{"day":355,"o":0.469,"h":0.476,"l":0.368,"c":0.438,"vol":33,"rsi":48},{"day":356,"o":0.457,"h":0.482,"l":0.395,"c":0.432,"vol":26,"rsi":42},{"day":357,"o":0.403,"h":0.601,"l":0.392,"c":0.496,"vol":130,"rsi":38},{"day":358,"o":0.531,"h":2.79,"l":0.524,"c":2.03,"vol":40,"rsi":90},{"day":359,"o":2.03,"h":2.72,"l":1.27,"c":2.21,"vol":20,"rsi":91},
{"day":360,"o":2.198,"h":2.371,"l":1.592,"c":2.064,"vol":10,"rsi":85}],
"averages":[
{"ma":"MA50","day":0,"price":1.68},{"ma":"MA50","day":8,"price":1.9},{"ma":"MA50","day":16,"price":2.13},{"ma":"MA50","day":25,"price":2.3},{"ma":"MA50","day":34,"price":2.46},{"ma":"MA50","day":42,"price":2.55},{"ma":"MA50","day":48,"price":2.55},{"ma":"MA50","day":59,"price":2.33},{"ma":"MA50","day":68,"price":2.15},{"ma":"MA50","day":76,"price":1.98},{"ma":"MA50","day":85,"price":1.81},{"ma":"MA50","day":94,"price":1.72},{"ma":"MA50","day":99,"price":1.72},{"ma":"MA50","day":107,"price":1.86},{"ma":"MA50","day":115,"price":1.95},{"ma":"MA50","day":123,"price":2.03},{"ma":"MA50","day":131,"price":2.09},{"ma":"MA50","day":136,"price":2.18},{"ma":"MA50","day":140,"price":2.18},{"ma":"MA50","day":147,"price":2.13},{"ma":"MA50","day":153,"price":2.05},{"ma":"MA50","day":161,"price":1.91},{"ma":"MA50","day":169,"price":1.77},{"ma":"MA50","day":175,"price":1.7},{"ma":"MA50","day":182,"price":1.59},{"ma":"MA50","day":187,"price":1.48},{"ma":"MA50","day":191,"price":1.43},{"ma":"MA50","day":196,"price":1.49},{"ma":"MA50","day":203,"price":1.53},{"ma":"MA50","day":210,"price":1.61},{"ma":"MA50","day":216,"price":1.66},{"ma":"MA50","day":223,"price":1.68},{"ma":"MA50","day":228,"price":1.63},{"ma":"MA50","day":235,"price":1.55},{"ma":"MA50","day":241,"price":1.53},{"ma":"MA50","day":246,"price":1.42},{"ma":"MA50","day":253,"price":1.31},{"ma":"MA50","day":258,"price":1.19},{"ma":"MA50","day":265,"price":1.083},{"ma":"MA50","day":274,"price":0.957},{"ma":"MA50","day":286,"price":0.862},{"ma":"MA50","day":296,"price":0.819},{"ma":"MA50","day":303,"price":0.777},{"ma":"MA50","day":314,"price":0.708},{"ma":"MA50","day":322,"price":0.674},{"ma":"MA50","day":329,"price":0.657},{"ma":"MA50","day":336,"price":0.652},{"ma":"MA50","day":341,"price":0.601},{"ma":"MA50","day":347,"price":0.561},{"ma":"MA50","day":356,"price":0.526},{"ma":"MA50","day":358,"price":0.561},{"ma":"MA50","day":360,"price":0.614},
{"ma":"MA100","day":0,"price":1.19},{"ma":"MA100","day":9,"price":1.35},{"ma":"MA100","day":21,"price":1.59},{"ma":"MA100","day":34,"price":1.85},{"ma":"MA100","day":47,"price":2.08},{"ma":"MA100","day":51,"price":2.1},{"ma":"MA100","day":65,"price":2.16},{"ma":"MA100","day":79,"price":2.17},{"ma":"MA100","day":97,"price":2.13},{"ma":"MA100","day":109,"price":2.11},{"ma":"MA100","day":120,"price":2.05},{"ma":"MA100","day":131,"price":1.99},{"ma":"MA100","day":139,"price":1.96},{"ma":"MA100","day":149,"price":1.91},{"ma":"MA100","day":156,"price":1.92},{"ma":"MA100","day":169,"price":1.88},{"ma":"MA100","day":183,"price":1.83},{"ma":"MA100","day":193,"price":1.8},{"ma":"MA100","day":204,"price":1.77},{"ma":"MA100","day":216,"price":1.74},{"ma":"MA100","day":224,"price":1.69},{"ma":"MA100","day":231,"price":1.59},{"ma":"MA100","day":238,"price":1.48},{"ma":"MA100","day":249,"price":1.43},{"ma":"MA100","day":265,"price":1.37},{"ma":"MA100","day":276,"price":1.294},{"ma":"MA100","day":286,"price":1.215},{"ma":"MA100","day":291,"price":1.185},{"ma":"MA100","day":304,"price":1.025},{"ma":"MA100","day":315,"price":0.882},{"ma":"MA100","day":324,"price":0.812},{"ma":"MA100","day":333,"price":0.775},{"ma":"MA100","day":346,"price":0.698},{"ma":"MA100","day":356,"price":0.634},{"ma":"MA100","day":360,"price":0.67},
{"ma":"MA200","day":52,"price":1.43},{"ma":"MA200","day":68,"price":1.49},{"ma":"MA200","day":85,"price":1.56},{"ma":"MA200","day":102,"price":1.65},{"ma":"MA200","day":115,"price":1.76},{"ma":"MA200","day":131,"price":1.87},{"ma":"MA200","day":139,"price":1.95},{"ma":"MA200","day":153,"price":2.01},{"ma":"MA200","day":170,"price":2.02},{"ma":"MA200","day":183,"price":2.0},{"ma":"MA200","day":196,"price":1.97},{"ma":"MA200","day":210,"price":1.94},{"ma":"MA200","day":223,"price":1.87},{"ma":"MA200","day":233,"price":1.79},{"ma":"MA200","day":246,"price":1.68},{"ma":"MA200","day":265,"price":1.63},{"ma":"MA200","day":277,"price":1.567},{"ma":"MA200","day":292,"price":1.48},{"ma":"MA200","day":304,"price":1.416},{"ma":"MA200","day":317,"price":1.294},{"ma":"MA200","day":330,"price":1.21},{"ma":"MA200","day":338,"price":1.12},{"ma":"MA200","day":349,"price":1.05},{"ma":"MA200","day":356,"price":1.016},{"ma":"MA200","day":360,"price":1.03}],
"channel":[{"line":"upper","day":180.2,"price":3.09},{"line":"upper","day":385,"price":0.433},{"line":"lower","day":180.2,"price":1.46},{"line":"lower","day":385,"price":0.2087}],
"midline":[{"day":180.2,"price":2.13},{"day":385,"price":0.297}],
"lastPrice":[{"from":-0.2,"to":385,"price":2.064}],
"frameX":[{"day":-0.2},{"day":385.1},{"day":417}],
"frameTop":[{"from":-0.2,"to":417,"price":5.86},{"from":-0.2,"to":417,"price":0.2148}],
"frameRsi":[{"from":-0.2,"to":417,"rsi":8.4},{"from":-0.2,"to":417,"rsi":-25.8}],
"tags":[{"from":385.5,"to":416.2,"low":1.9,"high":2.22},{"from":393,"to":416.2,"low":1.61,"high":1.88}],
"tagText":[{"day":389.5,"price":2.06,"label":"2.06397791"},{"day":396,"price":1.74,"label":"16:33:57"}],
"usd":[{"from":395,"to":406.8,"low":4.73,"high":5.44,"label":"USD","day":396.8,"price":5.07}],
"legendText":[{"day":3.3,"price":5.05,"label":"HedgeTrade / US Dollar (calculated by TradingView), 1D, BITTREX","kind":"bold"},{"day":3.3,"price":4.4,"label":"3MA BB","kind":"plain"},{"day":3.3,"price":3.84,"label":"Vol","kind":"plain"}],
"headBold":[{"day":0,"row":"publisher","label":"CryptoFXStreet"},{"day":0,"row":"symbol","label":"BITTREX:HEDGUSD, 1D"},{"day":139.5,"row":"symbol","label":"O:"},{"day":173,"row":"symbol","label":"H:"},{"day":206.4,"row":"symbol","label":"L:"},{"day":238.4,"row":"symbol","label":"C:"}],
"headPlain":[{"day":36.6,"row":"publisher","label":"published on TradingView.com, January 16, 2021 07:26:05 UTC"},{"day":54.9,"row":"symbol","label":"2.06397791"},{"day":87.8,"row":"symbol","label":"−0.13296228 (−6.05%)"}],
"headRed":[{"day":82.2,"row":"symbol","label":"▼"},{"day":144.8,"row":"symbol","label":"2.19826051"},{"day":178.2,"row":"symbol","label":"2.37139029"},{"day":210.5,"row":"symbol","label":"1.59163460"},{"day":243.4,"row":"symbol","label":"2.06397791"}],
"rsiBand":[{"from":-0.2,"to":385,"low":30,"high":70}],
"rsiLevels":[{"from":-0.2,"to":385,"rsi":70},{"from":-0.2,"to":385,"rsi":30}],
"rsiLabel":[{"day":3.3,"rsi":80.3,"label":"RSI"}],
"brand":[{"day":4.7,"label":"logo"}],
"brandText":[{"day":10.6,"label":"TradingView"}]
},
"vconcat":[
{"width":1073,"height":43,"encoding":{"x":{"field":"day","type":"quantitative","axis":null,"scale":{"domain":[-2.75,419.35],"nice":false,"zero":false}},"y":{"field":"row","type":"ordinal","axis":null,"scale":{"type":"point","domain":["publisher","symbol"],"padding":0.765}},"text":{"field":"label","type":"nominal"}},
"layer":[
{"data":{"name":"headBold"},"mark":{"type":"text","fontWeight":"bold","fontSize":11.9}},
{"data":{"name":"headPlain"},"mark":{"type":"text","fontSize":12.2}},
{"data":{"name":"headRed"},"mark":{"type":"text","fontSize":12.2,"color":"#ef5350"}}]},
{"width":1073,"height":402,"resolve":{"scale":{"y":"independent"}},
"layer":[
{"data":{"name":"candles"},"mark":{"type":"bar","width":1.6,"opacity":0.5},"encoding":{"x":{"field":"day","type":"quantitative","axis":null,"scale":{"domain":[-2.75,419.35],"nice":false,"zero":false,"padding":0}},"y":{"field":"vol","type":"quantitative","axis":null,"scale":{"domain":[0,402],"nice":false}},"color":{"condition":{"test":"datum.c>=datum.o","value":"#26a69a"},"value":"#ef5350"}}},
{"encoding":{"x":{"field":"day","type":"quantitative","axis":null,"scale":{"domain":[-2.75,419.35],"nice":false,"zero":false,"padding":0}}},
"layer":[
{"data":{"name":"frameX"},"mark":{"type":"rule","color":"#e0e3eb","strokeWidth":1.5}},
{"data":{"name":"frameTop"},"mark":{"type":"rule","color":"#e0e3eb","strokeWidth":1.5},"encoding":{"x":{"field":"from","type":"quantitative","axis":null},"x2":{"field":"to"},"y":{"field":"price","type":"quantitative","title":null,"scale":{"type":"log","domain":[0.2148,5.86],"nice":false,"zero":false},"axis":{"orient":"right","offset":-87,"values":[5.5,4,3,1.4,1,0.7,0.5,0.35,0.27],"format":".8f","domain":false,"grid":false,"tickColor":"#e0e3eb","tickSize":4,"labelFont":"Open Sans","labelFontSize":12,"labelColor":"#363a45","labelPadding":4,"title":null}}}},
{"data":{"name":"lastPrice"},"mark":{"type":"rule","color":"#ef5350","strokeWidth":1,"strokeDash":[2,3]},"encoding":{"x":{"field":"from","type":"quantitative","axis":null},"x2":{"field":"to"},"y":{"field":"price","type":"quantitative"}}},
{"data":{"name":"candles"},"mark":{"type":"rule","strokeWidth":1},"encoding":{"y":{"field":"l","type":"quantitative"},"y2":{"field":"h"},"color":{"condition":{"test":"datum.c>=datum.o","value":"#26a69a"},"value":"#ef5350"}}},
{"data":{"name":"candles"},"mark":{"type":"rule","strokeWidth":2.2},"encoding":{"y":{"field":"o","type":"quantitative"},"y2":{"field":"c"},"color":{"condition":{"test":"datum.c>=datum.o","value":"#26a69a"},"value":"#ef5350"}}},
{"data":{"name":"averages"},"mark":{"type":"line","strokeWidth":2.4,"interpolate":"monotone","opacity":0.95},"encoding":{"y":{"field":"price","type":"quantitative"},"color":{"field":"ma","type":"nominal","legend":null,"scale":{"domain":["MA50","MA100","MA200"],"range":["#fbc02d","#2196f3","#d32f2f"]}}}},
{"data":{"name":"channel"},"mark":{"type":"line","color":"#000000","strokeWidth":5,"clip":true},"encoding":{"y":{"field":"price","type":"quantitative"},"detail":{"field":"line","type":"nominal"}}},
{"data":{"name":"midline"},"mark":{"type":"line","color":"#000000","strokeWidth":1,"strokeDash":[6,7]},"encoding":{"y":{"field":"price","type":"quantitative"}}},
{"data":{"name":"tags"},"mark":{"type":"rect","color":"#ef5350"},"encoding":{"x":{"field":"from","type":"quantitative","axis":null},"x2":{"field":"to"},"y":{"field":"low","type":"quantitative"},"y2":{"field":"high"}}},
{"data":{"name":"tagText"},"mark":{"type":"text","color":"#ffffff","fontWeight":"bold","fontSize":12.5},"encoding":{"y":{"field":"price","type":"quantitative"},"text":{"field":"label","type":"nominal"}}},
{"data":{"name":"usd"},"mark":{"type":"rect","fill":"#ffffff","stroke":"#e0e3eb","strokeWidth":1,"cornerRadius":3},"encoding":{"x":{"field":"from","type":"quantitative","axis":null},"x2":{"field":"to"},"y":{"field":"low","type":"quantitative"},"y2":{"field":"high"}}},
{"data":{"name":"usd"},"mark":{"type":"text","fontSize":11,"color":"#363a45"},"encoding":{"y":{"field":"price","type":"quantitative"},"text":{"field":"label","type":"nominal"}}},
{"data":{"name":"legendText"},"transform":[{"filter":"datum.kind=='bold'"}],"mark":{"type":"text","fontWeight":"bold","fontSize":11.9},"encoding":{"y":{"field":"price","type":"quantitative"},"text":{"field":"label","type":"nominal"}}},
{"data":{"name":"legendText"},"transform":[{"filter":"datum.kind=='plain'"}],"mark":{"type":"text","fontSize":12.2},"encoding":{"y":{"field":"price","type":"quantitative"},"text":{"field":"label","type":"nominal"}}}
]}]},
{"width":1073,"height":104,"encoding":{"x":{"field":"day","type":"quantitative","title":null,"scale":{"domain":[-2.75,419.35],"nice":false,"zero":false},"axis":{"orient":"bottom","offset":-28,"values":[10,70,131,192,253,285,345],"labelExpr":"datum.value==10?'Feb':datum.value==70?'Apr':datum.value==131?'Jun':datum.value==192?'Aug':datum.value==253?'Oct':datum.value==285?'2':'2021'","domain":false,"grid":false,"tickColor":"#e0e3eb","tickSize":4,"labelFont":"Open Sans","labelFontSize":12,"labelColor":"#363a45","labelPadding":5,"labelFlush":false,"title":null}}},
"layer":[
{"data":{"name":"rsiBand"},"mark":{"type":"rect","color":"#9c27b0","opacity":0.1},"encoding":{"x":{"field":"from","type":"quantitative"},"x2":{"field":"to"},"y":{"field":"low","type":"quantitative"},"y2":{"field":"high"}}},
{"data":{"name":"frameX"},"mark":{"type":"rule","color":"#e0e3eb","strokeWidth":1.5}},
{"data":{"name":"frameRsi"},"mark":{"type":"rule","color":"#e0e3eb","strokeWidth":1.5},"encoding":{"x":{"field":"from","type":"quantitative"},"x2":{"field":"to"},"y":{"field":"rsi","type":"quantitative","title":null,"scale":{"domain":[-25.8,101.5],"nice":false,"zero":false},"axis":{"orient":"right","offset":-87,"values":[80,40],"format":".2f","domain":false,"grid":false,"tickColor":"#e0e3eb","tickSize":4,"labelFont":"Open Sans","labelFontSize":12,"labelColor":"#363a45","labelPadding":4,"title":null}}}},
{"data":{"name":"rsiLevels"},"mark":{"type":"rule","color":"#787b86","strokeWidth":1,"strokeDash":[5,3],"opacity":0.7},"encoding":{"x":{"field":"from","type":"quantitative"},"x2":{"field":"to"},"y":{"field":"rsi","type":"quantitative"}}},
{"data":{"name":"candles"},"mark":{"type":"line","color":"#9c27b0","strokeWidth":1.2},"encoding":{"y":{"field":"rsi","type":"quantitative"}}},
{"data":{"name":"rsiLabel"},"mark":{"type":"text","fontSize":12.2},"encoding":{"y":{"field":"rsi","type":"quantitative"},"text":{"field":"label","type":"nominal"}}}
]},
{"width":1073,"height":37,"encoding":{"x":{"field":"day","type":"quantitative","axis":null,"scale":{"domain":[-2.75,419.35],"nice":false,"zero":false}}},
"layer":[
{"data":{"name":"brand"},"mark":{"type":"point","filled":true,"size":625,"opacity":1,"color":"#2196f3","shape":"M-1,.6 C-1,.15 -.75,-.05 -.5,-.05 C-.4,-.5 -.1,-.65 .1,-.4 C.25,-.2 .45,-.25 .6,-.05 C.9,0 1,.3 1,.6 Z"}},
{"data":{"name":"brand"},"mark":{"type":"point","filled":false,"size":625,"opacity":1,"strokeWidth":1.5,"color":"#ffffff","shape":"M-.75,.45 L-.3,-.05 L.15,.35 L.5,-.02 L.85,.35"}},
{"data":{"name":"brandText"},"mark":{"type":"text","fontSize":13},"encoding":{"text":{"field":"label","type":"nominal"}}}
]}
]}
